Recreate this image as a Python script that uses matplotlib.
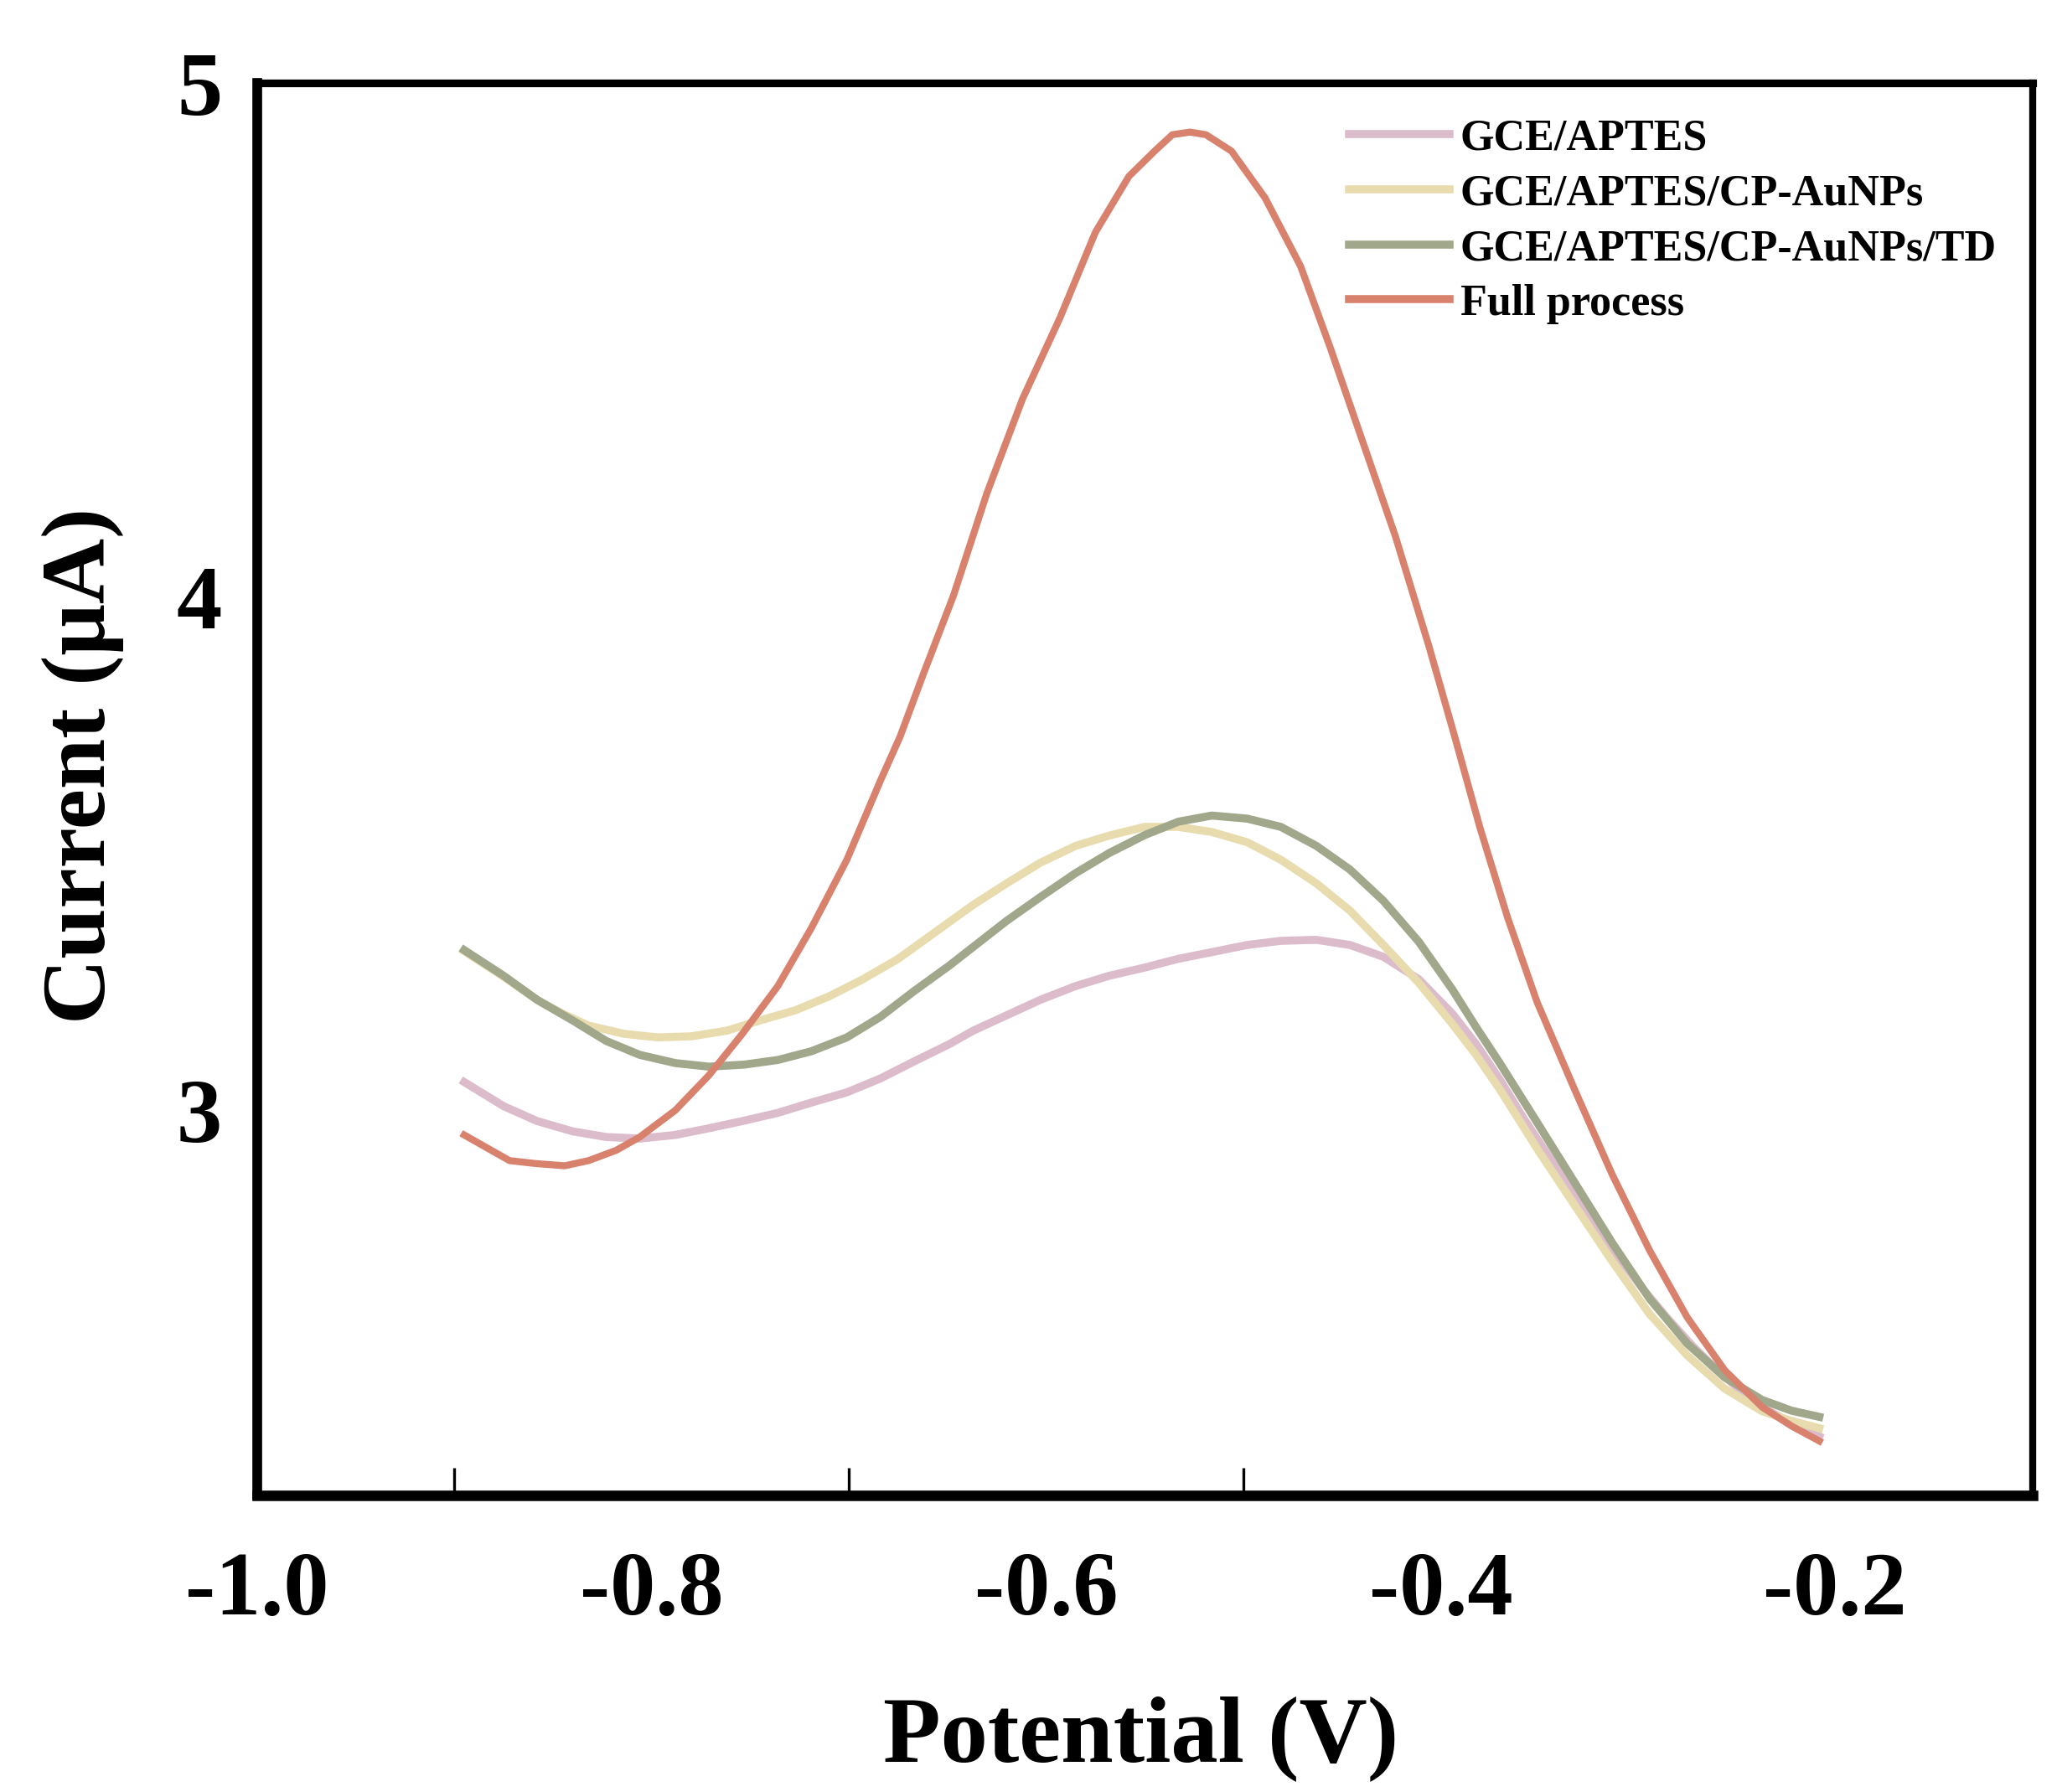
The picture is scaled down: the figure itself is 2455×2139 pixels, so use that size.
import matplotlib
matplotlib.use("Agg")
import matplotlib.pyplot as plt
from matplotlib.ticker import FixedLocator

plt.rcParams['font.family'] = ['Liberation Serif', 'DejaVu Serif']
plt.rcParams['font.weight'] = 'bold'

# ---------------- data ----------------
labels = ["GCE/APTES", "GCE/APTES/CP-AuNPs", "GCE/APTES/CP-AuNPs/TD", "Full process"]
colors = ["#dcbccb", "#e8dcae", "#a0a78b", "#d8826e"]

v_aptes = [-0.895, -0.875, -0.858, -0.840, -0.823, -0.806, -0.788, -0.771, -0.754, -0.736,
           -0.719, -0.701, -0.684, -0.667, -0.649, -0.637, -0.620, -0.603, -0.585, -0.568,
           -0.550, -0.533, -0.516, -0.498, -0.481, -0.463, -0.446, -0.429, -0.411, -0.394,
           -0.382, -0.370, -0.358, -0.346, -0.334, -0.322, -0.309, -0.297, -0.285, -0.272,
           -0.260, -0.248, -0.236, -0.222, -0.208]
i_aptes = [3.055, 3.008, 2.979, 2.959, 2.948, 2.945, 2.952, 2.965, 2.979, 2.995,
           3.015, 3.035, 3.062, 3.095, 3.129, 3.155, 3.185, 3.215, 3.242, 3.262,
           3.278, 3.295, 3.308, 3.322, 3.330, 3.332, 3.322, 3.299, 3.255, 3.188,
           3.129, 3.060, 2.985, 2.915, 2.845, 2.775, 2.710, 2.650, 2.595, 2.540,
           2.495, 2.455, 2.420, 2.390, 2.365]

v_cp = [-0.895, -0.875, -0.858, -0.845, -0.832, -0.814, -0.797, -0.780, -0.762, -0.745,
        -0.727, -0.710, -0.693, -0.675, -0.658, -0.637, -0.620, -0.603, -0.585, -0.568,
        -0.550, -0.533, -0.516, -0.498, -0.481, -0.463, -0.446, -0.429, -0.411, -0.394,
        -0.382, -0.370, -0.351, -0.332, -0.313, -0.294, -0.275, -0.256, -0.237, -0.222,
        -0.208]
i_cp = [3.310, 3.260, 3.215, 3.188, 3.165, 3.149, 3.142, 3.144, 3.155, 3.175,
        3.195, 3.222, 3.255, 3.295, 3.342, 3.400, 3.442, 3.482, 3.515, 3.535,
        3.552, 3.552, 3.542, 3.522, 3.488, 3.442, 3.389, 3.322, 3.248, 3.168,
        3.108, 3.041, 2.925, 2.815, 2.706, 2.603, 2.523, 2.458, 2.414, 2.395,
        2.381]

v_td = [-0.895, -0.875, -0.858, -0.840, -0.823, -0.806, -0.788, -0.771, -0.753, -0.736,
        -0.719, -0.701, -0.684, -0.667, -0.649, -0.637, -0.620, -0.603, -0.585, -0.568,
        -0.550, -0.533, -0.516, -0.498, -0.481, -0.463, -0.446, -0.429, -0.411, -0.394,
        -0.382, -0.370, -0.351, -0.332, -0.313, -0.294, -0.275, -0.256, -0.237, -0.222,
        -0.208]
i_td = [3.312, 3.262, 3.215, 3.175, 3.135, 3.108, 3.092, 3.085, 3.089, 3.098,
        3.115, 3.142, 3.182, 3.232, 3.282, 3.318, 3.369, 3.415, 3.462, 3.501,
        3.536, 3.562, 3.574, 3.568, 3.552, 3.515, 3.469, 3.408, 3.328, 3.235,
        3.162, 3.092, 2.976, 2.859, 2.742, 2.633, 2.546, 2.480, 2.436, 2.415,
        2.403]

v_full = [-0.895, -0.884, -0.872, -0.858, -0.844, -0.832, -0.818, -0.806, -0.788, -0.771,
          -0.754, -0.736, -0.719, -0.701, -0.684, -0.674, -0.662, -0.647, -0.630, -0.612,
          -0.593, -0.575, -0.558, -0.545, -0.536, -0.527, -0.519, -0.506, -0.489, -0.471,
          -0.456, -0.441, -0.423, -0.406, -0.393, -0.380, -0.366, -0.351, -0.332, -0.313,
          -0.294, -0.275, -0.256, -0.237, -0.222, -0.208]
i_full = [2.952, 2.928, 2.902, 2.896, 2.892, 2.902, 2.922, 2.948, 3.000, 3.068,
          3.149, 3.242, 3.355, 3.488, 3.642, 3.728, 3.852, 4.002, 4.202, 4.385,
          4.543, 4.710, 4.819, 4.868, 4.900, 4.905, 4.900, 4.868, 4.777, 4.644,
          4.486, 4.319, 4.119, 3.905, 3.730, 3.550, 3.375, 3.210, 3.040, 2.875,
          2.727, 2.597, 2.494, 2.422, 2.385, 2.356]

x_ticks = [-1.0, -0.8, -0.6, -0.4, -0.2]
x_ticklabels = ["-1.0", "-0.8", "-0.6", "-0.4", "-0.2"]
x_minor = [-0.9, -0.7, -0.5]
y_ticks = [3, 4, 5]
y_ticklabels = ["3", "4", "5"]

# ---------------- figure ----------------
fig = plt.figure(figsize=(2455 / 300, 2139 / 300), dpi=300)
ax = fig.add_axes([0.125, 0.1655, 0.863, 0.788])

series = [(v_aptes, i_aptes), (v_cp, i_cp), (v_td, i_td), (v_full, i_full)]
widths = [2.3, 2.3, 2.3, 2.0]
for (v, i), lab, c, lw in zip(series, labels, colors, widths):
    ax.plot(v, i, color=c, lw=lw, label=lab, solid_joinstyle='round')

ax.set_xlim(-1.0, -0.1)
ax.set_ylim(2.25, 5.0)

ax.set_xticks(x_ticks)
ax.set_xticklabels(x_ticklabels)
ax.xaxis.set_minor_locator(FixedLocator(x_minor))
ax.set_yticks(y_ticks)
ax.set_yticklabels(y_ticklabels)

ax.tick_params(axis='x', which='major', length=0, pad=16, labelsize=26)
ax.tick_params(axis='y', which='major', length=0, pad=10, labelsize=26)
ax.tick_params(axis='x', which='minor', direction='in', length=8, width=0.8)
for lab in ax.get_xticklabels() + ax.get_yticklabels():
    lab.set_fontweight('bold')

ax.spines['left'].set_linewidth(2.8)
ax.spines['bottom'].set_linewidth(3.0)
ax.spines['top'].set_linewidth(2.2)
ax.spines['right'].set_linewidth(2.0)

ax.set_xlabel("Potential (V)", fontsize=27, fontweight='bold')
ax.set_ylabel("Current (μA)", fontsize=26, fontweight='bold')
ax.xaxis.set_label_coords(0.498, -0.142)
ax.yaxis.set_label_coords(-0.075, 0.517)

leg = ax.legend(loc='upper left', bbox_to_anchor=(0.615, 0.975), frameon=False,
                fontsize=12.5, handlelength=2.3, handletextpad=0.25,
                labelspacing=0.34, borderpad=0, borderaxespad=0)
for t in leg.get_texts():
    t.set_fontweight('bold')
for h in leg.get_lines():
    h.set_linewidth(2.3)

fig.savefig("out.png", dpi=300, facecolor='white')
